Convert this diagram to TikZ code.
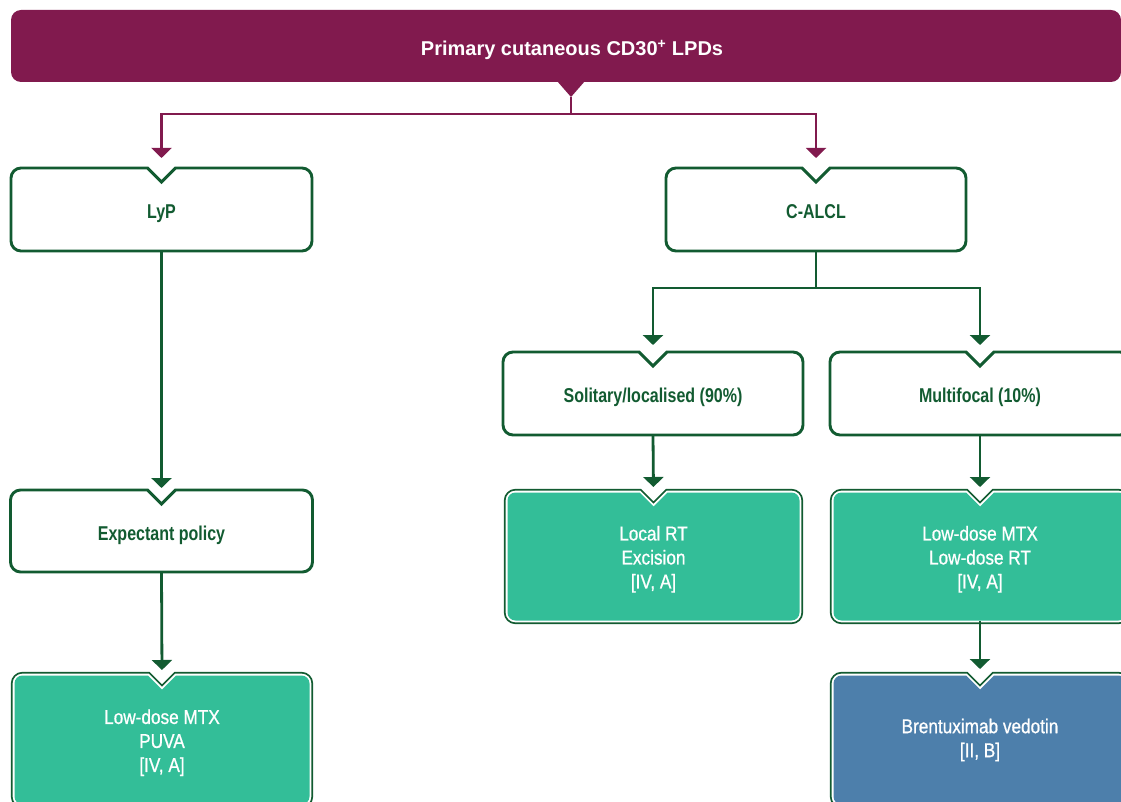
\documentclass[tikz,border=0pt]{standalone}
\usepackage{fontspec}
\setmainfont{Liberation Sans}
\newfontfamily\grfont[FakeStretch=0.80]{Liberation Sans}
\newfontfamily\whfont[FakeStretch=0.86,FakeBold=0.8]{Liberation Sans}
\usetikzlibrary{arrows.meta,backgrounds}
\definecolor{cpurple}{HTML}{811A4E}
\definecolor{cgreen}{HTML}{125B31}
\definecolor{cteal}{HTML}{33BE98}
\definecolor{cblue}{HTML}{4D7FAB}
\newcommand\tstrut{\rule{0pt}{20pt}}
\newcommand\nbpath[2]{([yshift=-#2]#1.north west) arc[start angle=180,end angle=90,radius=#2] -- ([xshift=-14pt]#1.north) -- ([yshift=-14pt]#1.north) -- ([xshift=14pt]#1.north) -- ([xshift=-#2]#1.north east) arc[start angle=90,end angle=0,radius=#2] -- ([yshift=#2]#1.south east) arc[start angle=0,end angle=-90,radius=#2] -- ([xshift=#2]#1.south west) arc[start angle=270,end angle=180,radius=#2] -- cycle}
\tikzset{
  wbox/.style={rectangle, minimum width=300pt, minimum height=83pt, inner sep=0pt, outer sep=0pt,
    text height=22pt, text depth=4pt,
    font=\grfont\bfseries\fontsize{20}{24}\selectfont, text=cgreen, align=center},
  fillbox/.style={rectangle, minimum width=293pt, minimum height=128pt, inner sep=0pt, outer sep=0pt,
    font=\whfont\fontsize{20}{24}\selectfont, text=white, align=center},
  gline/.style={draw=cgreen, line width=2.8pt, -{Triangle[width=20pt,length=10pt]}},
  pline/.style={draw=cpurple, line width=2.2pt},
  parrow/.style={pline, -{Triangle[width=20pt,length=10pt]}, shorten >=10pt},
  wshape/.style={draw=cgreen, line width=2.9pt, fill=white},
}
\begin{document}
\begin{tikzpicture}[x=1pt,y=-1pt]
\useasboundingbox (0,0) rectangle (1121,802);
% nodes
\node[rectangle, minimum width=1110pt, minimum height=72pt, inner sep=0pt, outer sep=0pt] (banner) at (566,46) {};
\node[font=\bfseries\fontsize{20}{24}\selectfont, text=white] (title) at (572,50) {Primary cutaneous CD30\textsuperscript{+} LPDs};
\node[wbox, minimum width=301pt] (lyp) at (161.5,209.5) {LyP};
\node[wbox] (calcl) at (816,209.5) {C-ALCL};
\node[wbox, minimum width=302pt, minimum height=82pt] (expt) at (161.5,531) {Expectant policy};
\node[fillbox, minimum width=295pt, minimum height=129pt] (puva) at (162,740) {\tstrut Low-dose MTX\\PUVA\\{}[IV, A]};
\node[wbox] (sol) at (653,393.5) {Solitary/localised (90\%)};
\node[wbox] (multi) at (980,393.5) {Multifocal (10\%)};
\node[fillbox, minimum width=292pt] (loc) at (653.5,556.5) {\tstrut Local RT\\Excision\\{}[IV, A]};
\node[fillbox] (lmr) at (980,556.5) {\tstrut Low-dose MTX\\Low-dose RT\\{}[IV, A]};
\node[fillbox, minimum height=129pt] (bv) at (980,740) {Brentuximab vedotin\\{}[II, B]};
% shapes
\begin{scope}[on background layer]
  \fill[cpurple, rounded corners=10pt] (banner.north west) rectangle (banner.south east);
  \fill[cpurple] ([xshift=-9pt,yshift=1pt]banner.south) -- ([xshift=5pt,yshift=-15pt]banner.south) -- ([xshift=19pt,yshift=1pt]banner.south) -- cycle;
  \foreach \n in {lyp,calcl,expt,sol,multi}{
    \draw[wshape] \nbpath{\n}{10pt};
  }
  \foreach \n/\c in {puva/cteal,loc/cteal,lmr/cteal,bv/cblue}{
    \draw[cgreen, line width=7.2pt] \nbpath{\n}{8pt};
    \draw[white, line width=3.6pt] \nbpath{\n}{8pt};
    \fill[\c] \nbpath{\n}{8pt};
  }
\end{scope}
% connectors
\coordinate (btip) at ([xshift=5pt,yshift=-15pt]banner.south);
\coordinate (bsplit) at (571,114);
\draw[pline] (btip) -- (bsplit);
\draw[parrow] (bsplit) -| (lyp.north);
\draw[parrow] (bsplit) -| (calcl.north);
\coordinate (csplit) at (816,288);
\draw[gline, -] (calcl.south) -- (csplit);
\draw[gline, shorten >=7pt] (csplit) -| (sol.north);
\draw[gline, shorten >=7pt] (csplit) -| (multi.north);
\draw[gline, shorten >=2pt] (lyp.south) -- (expt.north);
\draw[gline, shorten >=5.5pt] (expt.south) -- (puva.north);
\draw[gline, shorten >=5.5pt] (sol.south) -- (loc.north);
\draw[gline, shorten >=5.5pt] (multi.south) -- (lmr.north);
\draw[gline, shorten >=6.5pt] (lmr.south) -- (bv.north);
\end{tikzpicture}
\end{document}
